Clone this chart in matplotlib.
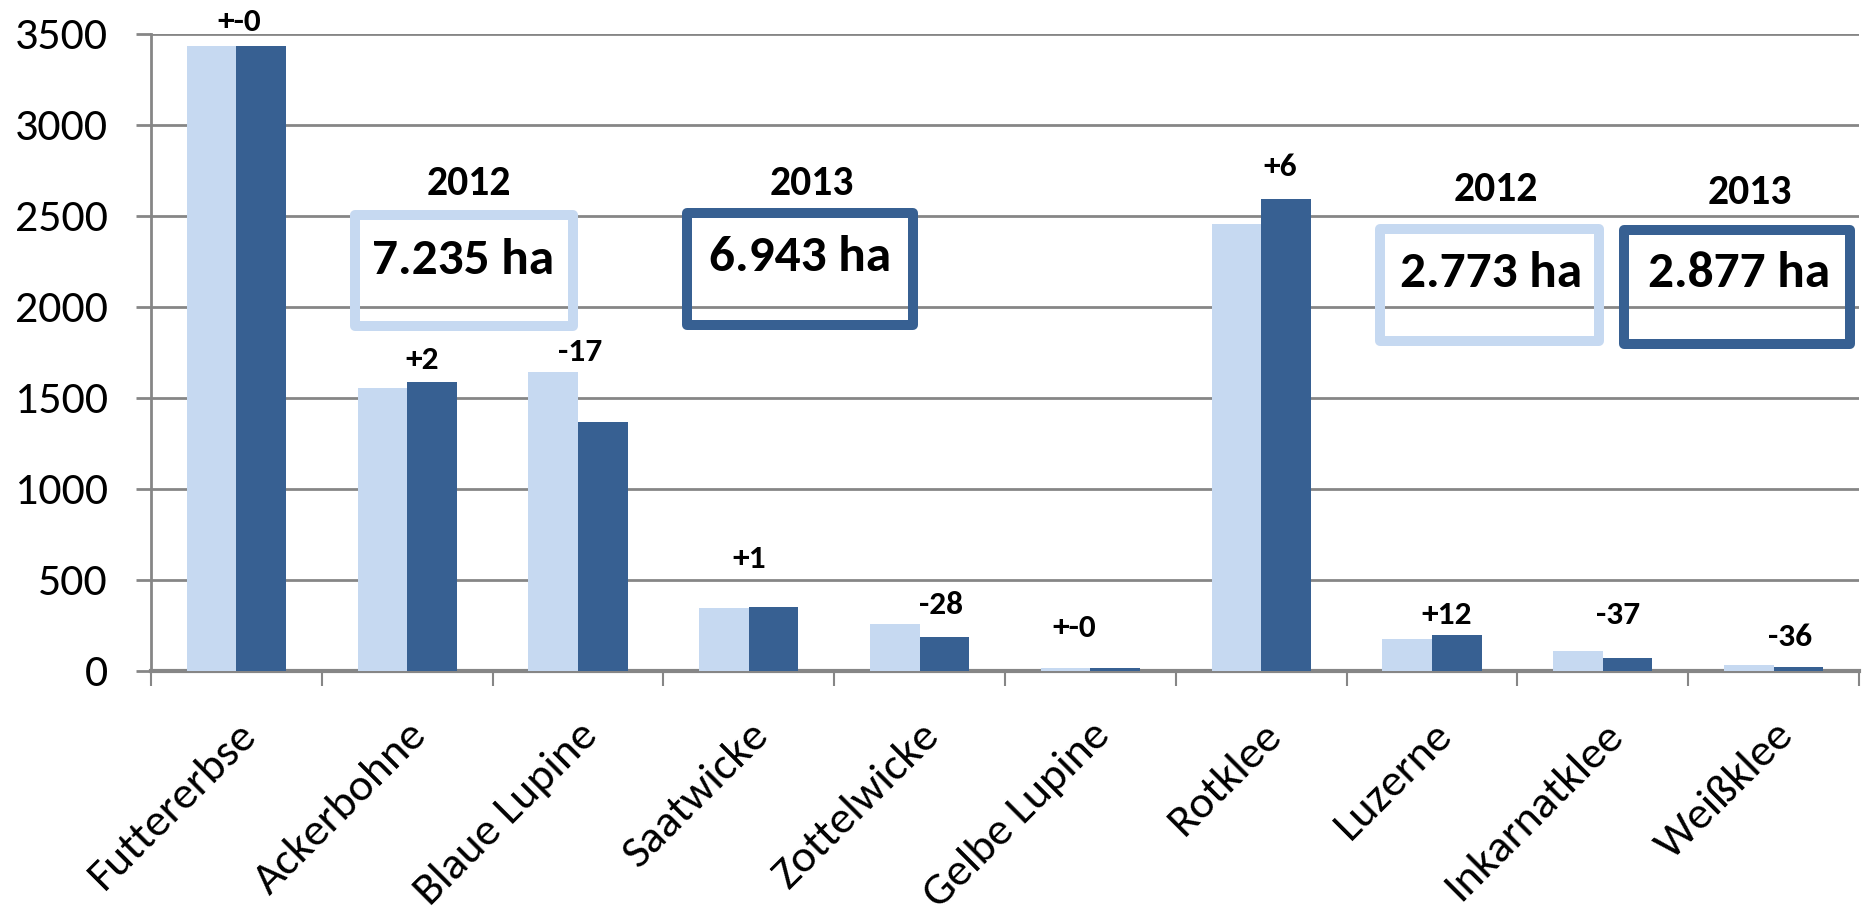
import numpy as np
import matplotlib
matplotlib.use("Agg")
import matplotlib.pyplot as plt
from matplotlib import font_manager
from matplotlib.patches import Rectangle
from matplotlib.ticker import MultipleLocator

# Calibri look-alike if present
avail = {f.name for f in font_manager.fontManager.ttflist}
base = 'Carlito' if 'Carlito' in avail else 'Liberation Sans'
k = 1.0 if base == 'Carlito' else 0.91
plt.rcParams['font.family'] = [base, 'DejaVu Sans']

# data: cultivated area (ha), 2012 vs 2013
categories = ['Futtererbse', 'Ackerbohne', 'Blaue Lupine', 'Saatwicke', 'Zottelwicke',
              'Gelbe Lupine', 'Rotklee', 'Luzerne', 'Inkarnatklee', 'Weißklee']
area_2012 = [3435, 1552, 1644, 344, 256, 13, 2458, 174, 106, 34]
area_2013 = [3435, 1587, 1365, 348, 185, 13, 2595, 196, 68, 22]
change_labels = ['+-0', '+2', '-17', '+1', '-28', '+-0', '+6', '+12', '-37', '-36']
total_years = ['2012', '2013', '2012', '2013']
total_labels = ['7.235 ha', '6.943 ha', '2.773 ha', '2.877 ha']

light = '#C6D9F1'
dark = '#376092'
grid_c = '#868686'

fig = plt.figure(figsize=(18.62, 9.18), dpi=100)
ax = fig.add_axes([0.0811, 0.2694, 0.9173, 0.6936])

x = np.arange(len(categories))
w = 0.29
ax.bar(x - w / 2, area_2012, w, color=light, zorder=3)
ax.bar(x + w / 2, area_2013, w, color=dark, zorder=3)

ax.set_xlim(-0.5, len(categories) - 0.5)
ax.set_ylim(0, 3500)
ax.yaxis.set_major_locator(MultipleLocator(500))
ax.grid(axis='y', color=grid_c, linewidth=2, zorder=0)
ax.set_axisbelow(True)

for s in ['top', 'right']:
    ax.spines[s].set_visible(False)
ax.spines['left'].set_color(grid_c)
ax.spines['left'].set_linewidth(2)
ax.spines['bottom'].set_color(grid_c)
ax.spines['bottom'].set_linewidth(3)

ax.set_xticks(x)
ax.set_xticklabels(categories, rotation=45, ha='right', va='top',
                   rotation_mode='anchor', fontsize=33 * k)
ax.set_xticks(np.arange(-0.5, len(categories), 1), minor=True)
ax.tick_params(axis='x', which='major', length=0, pad=32)
ax.tick_params(axis='x', which='minor', length=11, width=1.5, color=grid_c)
ax.tick_params(axis='y', length=11, width=2, color=grid_c, labelsize=33 * k, pad=20)

# change labels (percent) above the bars
label_dx = [0.015, 0.09, 0.01, 0.0, 0.125, -0.096, 0.11, 0.088, 0.089, 0.094]
label_y = [3566, 1707, 1751, 614, 360, 233, 2771, 307, 307, 184]
for i, t in enumerate(change_labels):
    ax.text(x[i] + label_dx[i], label_y[i], t, ha='center', va='center',
            fontsize=24 * k, fontweight='bold', clip_on=False, zorder=5)

# total boxes (figure fractions)
boxes = [(0.1904, 0.6449, 0.3080, 0.7658, light),
         (0.3690, 0.6460, 0.4903, 0.7685, dark),
         (0.7414, 0.6285, 0.8586, 0.7505, light),
         (0.8722, 0.6253, 0.9936, 0.7495, dark)]
year_pos = [(0.2519, 0.7996), (0.4361, 0.8001), (0.8034, 0.7941), (0.9398, 0.7908)]
total_pos = [(0.2487, 0.7168), (0.4295, 0.7204), (0.8008, 0.7026), (0.9339, 0.7026)]
for (x0, y0, x1, y1, c), yp, tp, yr, tl in zip(boxes, year_pos, total_pos,
                                               total_years, total_labels):
    fig.patches.append(Rectangle((x0, y0), x1 - x0, y1 - y0, transform=fig.transFigure,
                                 fill=False, edgecolor=c, linewidth=7.2,
                                 joinstyle='round', zorder=6))
    fig.text(yp[0], yp[1], yr, ha='center', va='center', fontsize=30 * k, fontweight='bold')
    fig.text(tp[0], tp[1], tl, ha='center', va='center', fontsize=37 * k, fontweight='bold')

fig.savefig('out.png', dpi=100)
